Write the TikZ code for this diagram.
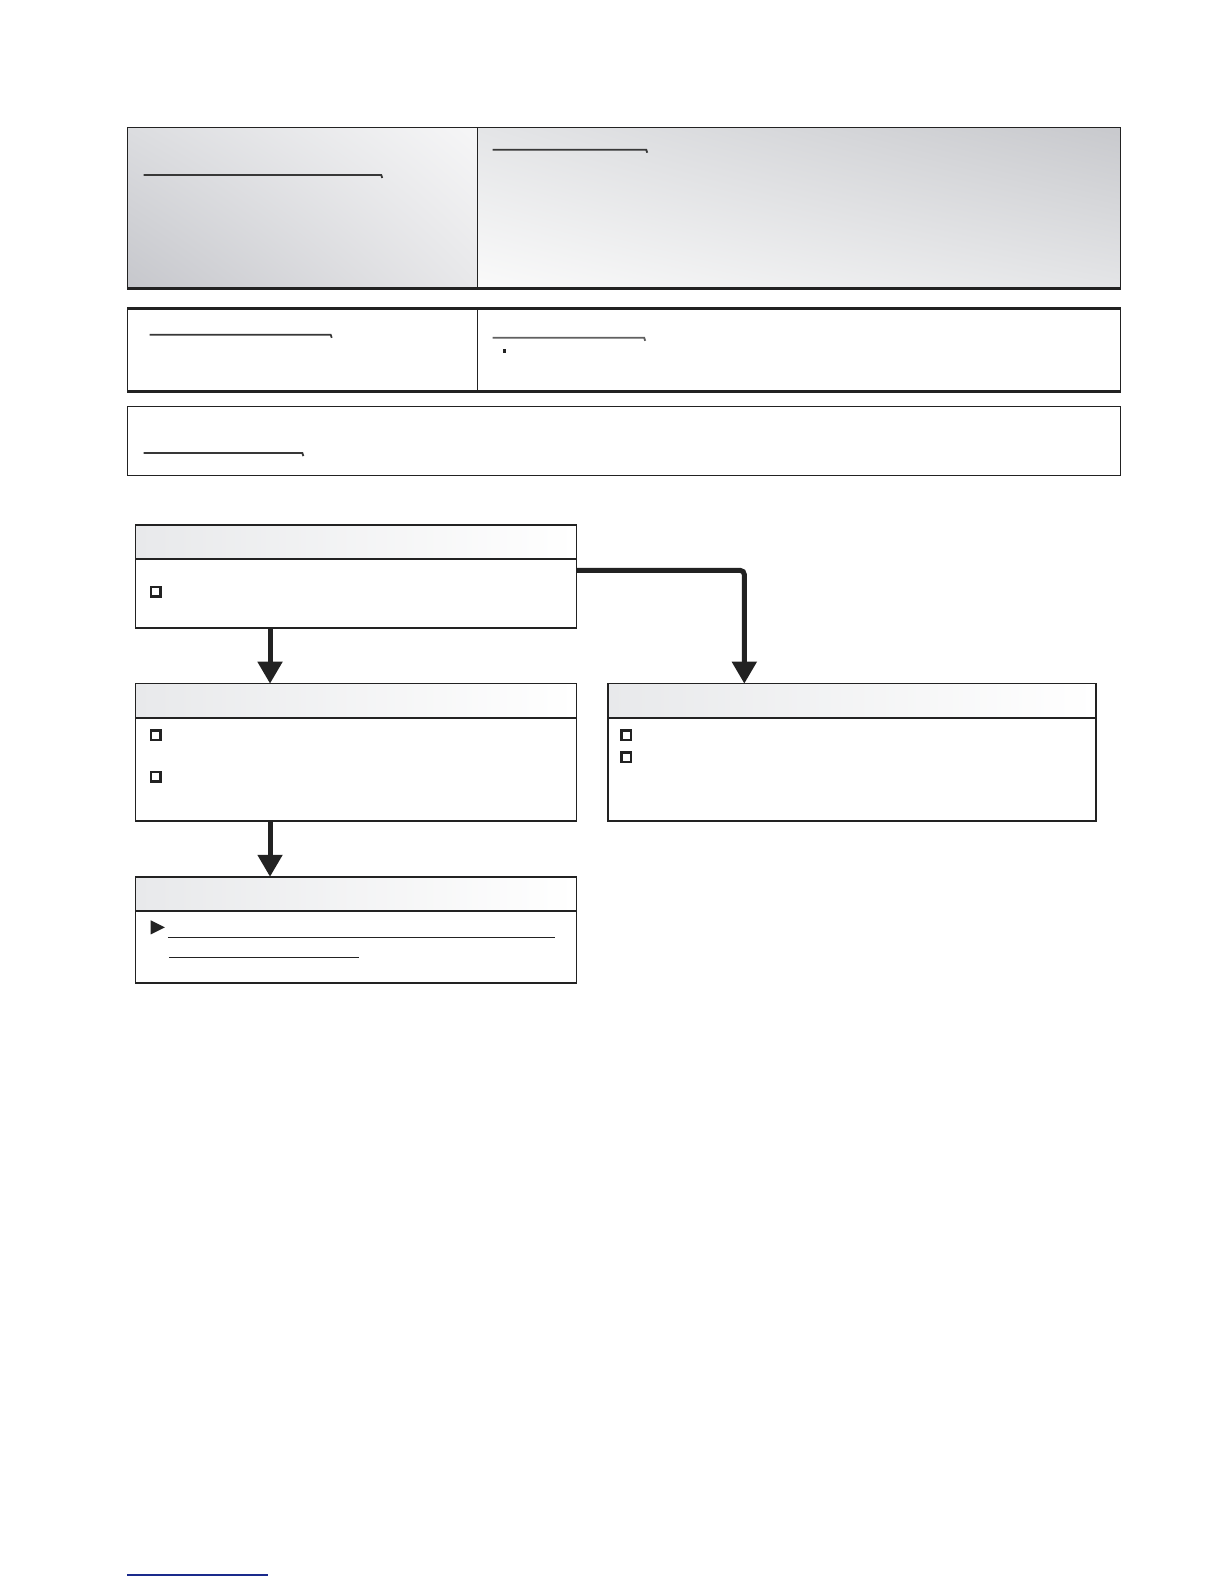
\documentclass[tikz,border=0pt]{standalone}
\usetikzlibrary{arrows.meta,shadings}
\definecolor{ink}{HTML}{222222}
\definecolor{navyline}{HTML}{1A2A8C}
\definecolor{gA}{RGB}{198,199,204}
\definecolor{gB}{RGB}{220,221,224}
\definecolor{gC}{RGB}{246,246,247}
\definecolor{gD}{RGB}{232,232,234}
\definecolor{gE}{RGB}{250,250,250}
\definecolor{gF}{RGB}{228,229,231}
\definecolor{gG}{RGB}{200,201,205}
\definecolor{hdr}{RGB}{232,233,235}
\tikzset{
  sz/.style 2 args={minimum width=#1*1.0113pt, minimum height=#2*1.0113pt},
  cellbox/.style={draw=ink, line width=1.3pt, inner sep=0pt, outer sep=0pt, anchor=north west},
  flowbox/.style={draw=ink, line width=1.8pt, fill=white, inner sep=0pt, outer sep=0pt, anchor=north west},
  headbar/.style={draw=ink, line width=1.6pt, inner sep=0pt, outer sep=0pt, anchor=north west, left color=hdr, right color=white},
  ulinestyle/.style={draw=ink!90, line width=1.8pt},
  chkbox/.style={draw=ink, line width=2.5pt, fill=white, inner sep=0pt, minimum size=9.5pt},
  flowarrow/.style={draw=ink, line width=5pt, -{Triangle[width=24pt,length=22pt]}},
  bulltri/.style={fill=ink}
}
\begin{document}
\begin{tikzpicture}[x=1.0113pt,y=-1.0113pt]
\useasboundingbox (0,0) rectangle (1210.35,1566.3);
% ---- top box
\node[cellbox, sz={346}{159},
  lower left=gA, upper left=gB, upper right=gC, lower right=gD] (tl) at (126,126) {};
\node[cellbox, sz={636}{159},
  lower left=gE, upper left=gF, upper right=gG, lower right=gF] (tr) at (472,126) {};
\draw[ink, line width=3pt] (tl.south west) -- (tr.south east);
\draw[ulinestyle] (142,173) -- (377,173) -- (378,176);
\draw[ulinestyle] (487,148) -- (639,148) -- (640,151);
% ---- second box
\node[cellbox, fill=white, sz={346}{82}] (ml) at (126,305) {};
\node[cellbox, line width=0.8pt, fill=white, sz={636}{82}] (mr) at (472,305) {};
\draw[ink, line width=2.6pt] (ml.north west) -- (mr.north east);
\draw[ink, line width=2.6pt] (ml.south west) -- (mr.south east);
\draw[ink, line width=1.6pt] (mr.north east) -- (mr.south east);
\draw[ulinestyle] (148,331) -- (327,331) -- (328,334);
\draw[draw=gray!75!black, line width=1.8pt] (487,334) -- (637,334) -- (638,337);
\fill[ink] (497.5,345) rectangle (500.5,349);
% ---- third box
\node[cellbox, sz={982}{68}] (lb) at (126,402) {};
\draw[ulinestyle] (142,448) -- (299,448) -- (300,451);
% ---- flow boxes
\node[flowbox, sz={436}{102}] (b1) at (134,519) {};
\node[headbar, sz={436}{34}] (h1) at (134,519) {};
\node[flowbox, sz={436}{136}] (b2) at (134,676) {};
\node[headbar, sz={436}{34}] (h2) at (134,676) {};
\node[flowbox, sz={483}{136}] (b3) at (601,676) {};
\node[headbar, sz={483}{34}] (h3) at (601,676) {};
\node[flowbox, sz={436}{105}] (b4) at (134,867) {};
\node[headbar, sz={436}{34}] (h4) at (134,867) {};
% checkboxes
\node[chkbox] (k1) at (154,585) {};
\node[chkbox] (k2) at (154,727) {};
\node[chkbox] (k3) at (154,768) {};
\node[chkbox] (k4) at (619,727) {};
\node[chkbox] (k5) at (619,749) {};
% triangle bullet and lines in box 4
\fill[bulltri] (149,910) -- (163,917) -- (149,924) -- cycle;
\draw[ink, line width=1.2pt] (166,927) -- (549,927);
\draw[ink, line width=1.2pt] (167,947) -- (355,947);
% ---- connectors
\coordinate (s1) at (267,621);
\coordinate (t1) at (267,676);
\coordinate (s2) at (267,812);
\coordinate (t2) at (267,867);
\coordinate (t3) at (736,676);
\draw[flowarrow] (s1) -- (t1);
\draw[flowarrow] (s2) -- (t2);
\draw[flowarrow, rounded corners=4pt] ([yshift=6pt]b1.east) -| (t3);
% ---- bottom line
\draw[navyline, line width=1.6pt] (125.6,1557.4) -- (265,1557.4);
\end{tikzpicture}
\end{document}
